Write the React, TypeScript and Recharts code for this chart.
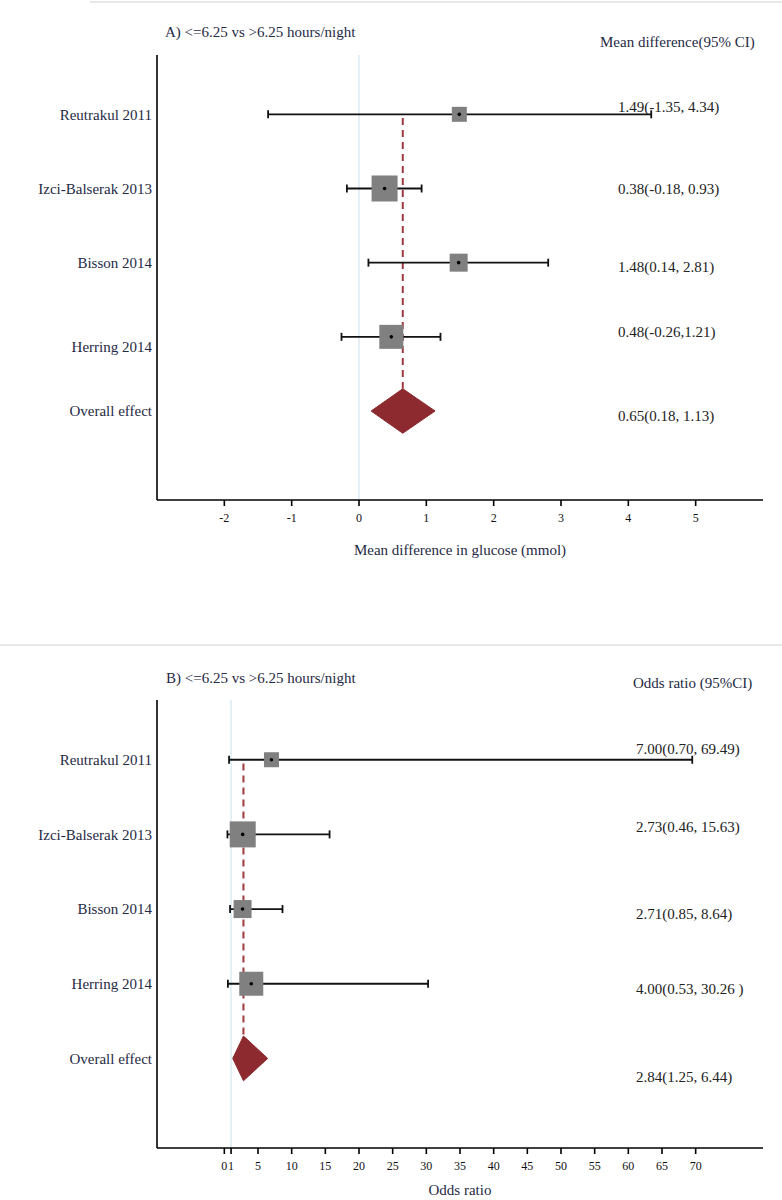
import React from 'react';
import {
  ScatterChart,
  Scatter,
  XAxis,
  YAxis,
  ErrorBar,
  ReferenceLine
} from 'recharts';

// Studies, top to bottom
const STUDIES = ['Reutrakul 2011', 'Izci-Balserak 2013', 'Bisson 2014', 'Herring 2014'];
const POOLED_LABEL = 'Overall effect';

// A) mean difference in glucose (mmol)
const mdEst = [1.49, 0.38, 1.48, 0.48];
const mdLow = [-1.35, -0.18, 0.14, -0.26];
const mdHigh = [4.34, 0.93, 2.81, 1.21];
const mdPooled = { est: 0.65, low: 0.18, high: 1.13 };
const mdText = ['1.49(-1.35, 4.34)', '0.38(-0.18, 0.93)', '1.48(0.14, 2.81)', '0.48(-0.26,1.21)', '0.65(0.18, 1.13)'];
const mdTicks = [-2, -1, 0, 1, 2, 3, 4, 5];

// B) odds ratio
const orEst = [7.0, 2.73, 2.71, 4.0];
const orLow = [0.7, 0.46, 0.85, 0.53];
const orHigh = [69.49, 15.63, 8.64, 30.26];
const orPooled = { est: 2.84, low: 1.25, high: 6.44 };
const orText = ['7.00(0.70, 69.49)', '2.73(0.46, 15.63)', '2.71(0.85, 8.64)', '4.00(0.53, 30.26 )', '2.84(1.25, 6.44)'];
const orTicks = [0, 1, 5, 10, 15, 20, 25, 30, 35, 40, 45, 50, 55, 60, 65, 70];

// styling
const FONT = '"Liberation Serif", "Times New Roman", serif';
const TEXT = '#1f2a44';
const RED = '#8c2a2f';
const DASH = '#a03a40';
const BOX = '#808080';
const NULL_LINE = '#d3e4ee';
const BOX_PX = [15, 26, 18, 24]; // study weight squares
const DIAMOND_HALF = 0.3; // in row units

interface ForestProps {
  top: number;
  height: number;
  xAxisHeight: number;
  bottomMargin: number;
  labelOffset: number;
  domain: [number, number];
  ticks: number[];
  xLabel: string;
  est: number[];
  low: number[];
  high: number[];
  pooled: { est: number; low: number; high: number };
  nullValue: number;
  texts: string[];
  textX: number;
  textDy: number[];
  labelDy: number[];
}

function Forest(p: ForestProps) {
  const rows = [...STUDIES.map((_, i) => i + 1), STUDIES.length + 1];
  const pooledRow = STUDIES.length + 1;
  const labels = [...STUDIES, POOLED_LABEL];

  const boxes = p.est.map((v, i) => ({ x: v, row: i + 1, size: BOX_PX[i] }));
  const cis = p.est.map((v, i) => ({ x: v, row: i + 1, err: [v - p.low[i], p.high[i] - v] }));
  const diamond = [
    { x: p.pooled.low, row: pooledRow },
    { x: p.pooled.est, row: pooledRow - DIAMOND_HALF },
    { x: p.pooled.high, row: pooledRow },
    { x: p.pooled.est, row: pooledRow + DIAMOND_HALF }
  ];

  const rowTick = (t: any) => {
    const i = rows.indexOf(t.payload.value);
    if (i < 0) return <g />;
    return (
      <g>
        <text x={t.x} y={t.y + p.labelDy[i]} dy="0.35em" textAnchor="end" fontSize={15} fontFamily={FONT} fill={TEXT}>
          {labels[i]}
        </text>
        <text x={p.textX} y={t.y + p.textDy[i]} dy="0.35em" textAnchor="start" fontSize={15} fontFamily={FONT} fill="#222">
          {p.texts[i]}
        </text>
      </g>
    );
  };

  const diamondShape = (lp: any) => {
    const pts = (lp.points || []).map((q: any) => `${q.x},${q.y}`).join(' ');
    return <polygon points={pts} fill={RED} stroke={RED} strokeWidth={1} />;
  };

  return (
    <div style={{ position: 'absolute', left: 0, top: p.top }}>
      <ScatterChart
        width={782}
        height={p.height}
        margin={{ top: 55, right: 19, bottom: p.bottomMargin, left: 0 }}
      >
        <XAxis
          type="number"
          dataKey="x"
          domain={p.domain}
          ticks={p.ticks}
          interval={0}
          allowDataOverflow
          height={p.xAxisHeight}
          tickSize={6}
          tickMargin={7}
          axisLine={{ stroke: '#000', strokeWidth: 1.6 }}
          tickLine={{ stroke: '#000', strokeWidth: 1.6 }}
          tick={{ fontSize: 12, fill: '#111', fontFamily: FONT }}
          label={{ value: p.xLabel, position: 'insideBottom', offset: p.labelOffset, fontSize: 15, fill: TEXT, fontFamily: FONT }}
        />
        <YAxis
          type="number"
          dataKey="row"
          domain={[0.2, 6.2]}
          ticks={rows}
          reversed
          allowDataOverflow
          width={157}
          tickSize={0}
          tickMargin={5}
          tickLine={false}
          axisLine={{ stroke: '#000', strokeWidth: 1.6 }}
          tick={rowTick}
        />
        <ReferenceLine x={p.nullValue} stroke={NULL_LINE} strokeWidth={1.2} />
        <Scatter
          data={boxes}
          isAnimationActive={false}
          shape={(s: any) => (
            <rect
              x={s.cx - s.payload.size / 2}
              y={s.cy - s.payload.size / 2}
              width={s.payload.size}
              height={s.payload.size}
              fill={BOX}
            />
          )}
        />
        <ReferenceLine
          segment={[
            { x: p.pooled.est, y: 1.05 },
            { x: p.pooled.est, y: pooledRow - DIAMOND_HALF }
          ]}
          stroke={DASH}
          strokeWidth={2}
          strokeDasharray="7 5"
        />
        <Scatter
          data={cis}
          isAnimationActive={false}
          shape={(s: any) => <circle cx={s.cx} cy={s.cy} r={1.8} fill="#000" />}
        >
          <ErrorBar dataKey="err" direction="x" width={4} stroke="#111" strokeWidth={1.8} isAnimationActive={false} />
        </Scatter>
        <Scatter
          data={diamond}
          isAnimationActive={false}
          line={diamondShape}
          lineType="joint"
          shape={() => <g />}
        />
      </ScatterChart>
    </div>
  );
}

const textStyle: React.CSSProperties = {
  position: 'absolute',
  fontFamily: FONT,
  fontSize: 15,
  lineHeight: '18px',
  color: TEXT,
  whiteSpace: 'nowrap'
};

export default function App() {
  return (
    <div style={{ position: 'absolute', left: 0, top: 0, width: 782, height: 1200, background: '#fff', overflow: 'hidden' }}>
      <div style={{ position: 'absolute', left: 90, top: 1, width: 692, height: 2, background: '#e8e8e8' }} />
      <div style={{ position: 'absolute', left: 0, top: 644, width: 782, height: 2, background: '#e8e8e8' }} />

      <Forest
        top={0}
        height={600}
        xAxisHeight={60}
        bottomMargin={40}
        labelOffset={5}
        domain={[-3, 6]}
        ticks={mdTicks}
        xLabel="Mean difference in glucose (mmol)"
        est={mdEst}
        low={mdLow}
        high={mdHigh}
        pooled={mdPooled}
        nullValue={0}
        texts={mdText}
        textX={618}
        textDy={[-8, 0, 4, -5, 5]}
        labelDy={[0, 0, 0, 10, 0]}
      />
      <div style={{ ...textStyle, left: 165, top: 23 }}>A) &lt;=6.25 vs &gt;6.25 hours/night</div>
      <div style={{ ...textStyle, left: 600, top: 33 }}>Mean difference(95% CI)</div>

      <Forest
        top={645}
        height={555}
        xAxisHeight={52}
        bottomMargin={0}
        labelOffset={5}
        domain={[-10, 80]}
        ticks={orTicks}
        xLabel="Odds ratio"
        est={orEst}
        low={orLow}
        high={orHigh}
        pooled={orPooled}
        nullValue={1}
        texts={orText}
        textX={636}
        textDy={[-11, -8, 5, 5, 18]}
        labelDy={[0, 0, 0, 0, 0]}
      />
      <div style={{ ...textStyle, left: 166, top: 669 }}>B) &lt;=6.25 vs &gt;6.25 hours/night</div>
      <div style={{ ...textStyle, left: 633, top: 674 }}>Odds ratio (95%CI)</div>
    </div>
  );
}
